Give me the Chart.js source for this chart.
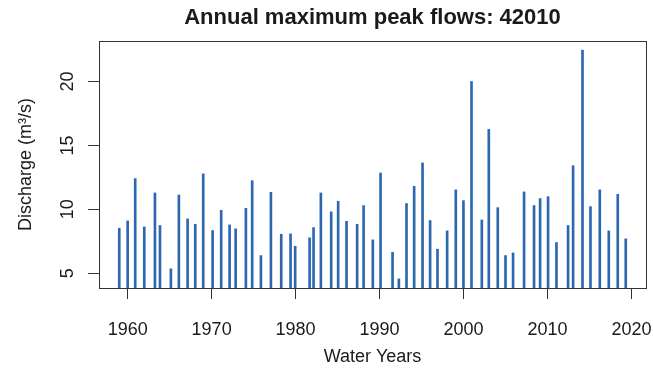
<!DOCTYPE html>
<html>
<head>
<meta charset="utf-8">
<script src="https://cdn.jsdelivr.net/npm/chart.js@4.4.1/dist/chart.umd.min.js"></script>
<style>
  html, body { margin: 0; padding: 0; background: #ffffff; }
  #wrap { width: 653px; height: 368px; }
</style>
</head>
<body>
<div id="wrap"><canvas id="c" width="653" height="368"></canvas></div>
<script>
// Annual maximum peak flows at station 42010, plotted against the date of each peak.
const chartTitle = 'Annual maximum peak flows: 42010';
const xAxisTitle = 'Water Years';
const yAxisTitle = 'Discharge (m³/s)';

// Date of each annual peak, as decimal years
const peakDates = [
  1959.0, 1960.0, 1960.9, 1961.98, 1963.25, 1963.85, 1965.15, 1966.1, 1967.14, 1968.05,
  1969.0, 1970.12, 1971.14, 1972.14, 1972.86, 1974.08, 1974.83, 1975.87, 1977.06, 1978.29,
  1979.4, 1979.95, 1981.67, 1982.14, 1983.01, 1984.24, 1985.07, 1986.07, 1987.33, 1988.1,
  1989.2, 1990.12, 1991.55, 1992.3, 1993.21, 1994.12, 1995.12, 1996.02, 1996.9, 1998.05,
  1999.08, 1999.99, 2000.95, 2002.18, 2003.01, 2004.08, 2005.0, 2005.9, 2007.21, 2008.4,
  2009.12, 2010.07, 2011.07, 2012.45, 2013.05, 2014.17, 2015.12, 2016.23, 2017.3, 2018.37,
  2019.32
];

// Annual maximum discharge, m³/s
const peakFlows = [
  8.52, 9.09, 12.40, 8.62, 11.28, 8.73, 5.34, 11.12, 9.25, 8.83,
  12.77, 8.34, 9.92, 8.78, 8.47, 10.08, 12.24, 6.38, 11.33, 8.05,
  8.08, 7.11, 7.77, 8.57, 11.28, 9.80, 10.63, 9.06, 8.83, 10.29,
  7.61, 12.84, 6.64, 4.56, 10.45, 11.80, 13.63, 9.12, 6.88, 8.31,
  11.52, 10.68, 20.0, 9.17, 16.25, 10.13, 6.38, 6.59, 11.36, 10.29,
  10.84, 10.99, 7.40, 8.73, 13.41, 22.45, 10.21, 11.52, 8.31, 11.17,
  7.69
];

const xTickValues = [1960, 1970, 1980, 1990, 2000, 2010, 2020];
const yTickValues = [5, 10, 15, 20];

// Axis limits padded by 4% of the data range on each side
function paddedRange(values) {
  const lo = Math.min(...values), hi = Math.max(...values);
  const pad = (hi - lo) * 0.04;
  return [lo - pad, hi + pad];
}
const [xMin, xMax] = paddedRange(peakDates);
const [yMin, yMax] = paddedRange(peakFlows);

const FONT = '"Liberation Sans", Arial, Helvetica, sans-serif';
const INK = '#1a1a1a';
const AXIS = '#333333';

const points = peakDates.map((d, i) => ({ x: d, y: peakFlows[i] }));

// Frame, rotated y tick labels and the title centred over the plotting region
const framePlugin = {
  id: 'frame',
  afterDraw(chart) {
    const { ctx, chartArea: a, scales } = chart;
    ctx.save();
    ctx.strokeStyle = AXIS;
    ctx.lineWidth = 1;
    ctx.strokeRect(Math.round(a.left) + 0.5, Math.round(a.top) + 0.5,
                   Math.round(a.right - a.left), Math.round(a.bottom - a.top));

    ctx.fillStyle = INK;
    ctx.font = '18px ' + FONT;
    ctx.textAlign = 'center';
    ctx.textBaseline = 'middle';
    scales.y.ticks.forEach(t => {
      const py = scales.y.getPixelForValue(t.value);
      ctx.save();
      ctx.translate(68, py);
      ctx.rotate(-Math.PI / 2);
      ctx.fillText(String(t.value), 0, 0);
      ctx.restore();
    });

    ctx.font = 'bold 22px ' + FONT;
    ctx.textBaseline = 'middle';
    ctx.fillText(chartTitle, (a.left + a.right) / 2, 18);
    ctx.restore();
  }
};

new Chart(document.getElementById('c'), {
  type: 'bar',
  data: {
    datasets: [{
      data: points,
      backgroundColor: '#2b68b0',
      borderWidth: 0,
      barThickness: 2,
      base: yMin,
      clip: 0
    }]
  },
  options: {
    responsive: false,
    animation: false,
    devicePixelRatio: 1,
    layout: { padding: { top: 41, right: 7, bottom: 0, left: 0 } },
    plugins: {
      legend: { display: false },
      tooltip: { enabled: false },
      title: { display: false }
    },
    scales: {
      x: {
        type: 'linear',
        offset: false,
        min: xMin,
        max: xMax,
        afterBuildTicks: s => { s.ticks = xTickValues.map(v => ({ value: v })); },
        afterFit: s => { s.height = 80; s.paddingLeft = 0; s.paddingRight = 0; },
        grid: { display: true, offset: false, drawOnChartArea: false, drawTicks: true, tickLength: 11, color: AXIS, lineWidth: 1 },
        border: { display: true, color: AXIS },
        ticks: { color: INK, font: { family: FONT, size: 18 }, padding: 20, maxRotation: 0, autoSkip: false,
                 callback: v => String(v) },
        title: { display: true, text: xAxisTitle, color: INK, font: { family: FONT, size: 18 }, padding: { top: 0, bottom: 0 } }
      },
      y: {
        type: 'linear',
        min: yMin,
        max: yMax,
        afterBuildTicks: s => { s.ticks = yTickValues.map(v => ({ value: v })); },
        afterFit: s => { s.width = 99; s.paddingTop = 0; s.paddingBottom = 0; },
        grid: { display: true, drawOnChartArea: false, drawTicks: true, tickLength: 11, color: AXIS, lineWidth: 1 },
        border: { display: true, color: AXIS },
        ticks: { display: false },
        title: { display: true, text: yAxisTitle, color: INK, font: { family: FONT, size: 18 }, padding: { top: 15, bottom: 0 } }
      }
    }
  },
  plugins: [framePlugin]
});
</script>
</body>
</html>
